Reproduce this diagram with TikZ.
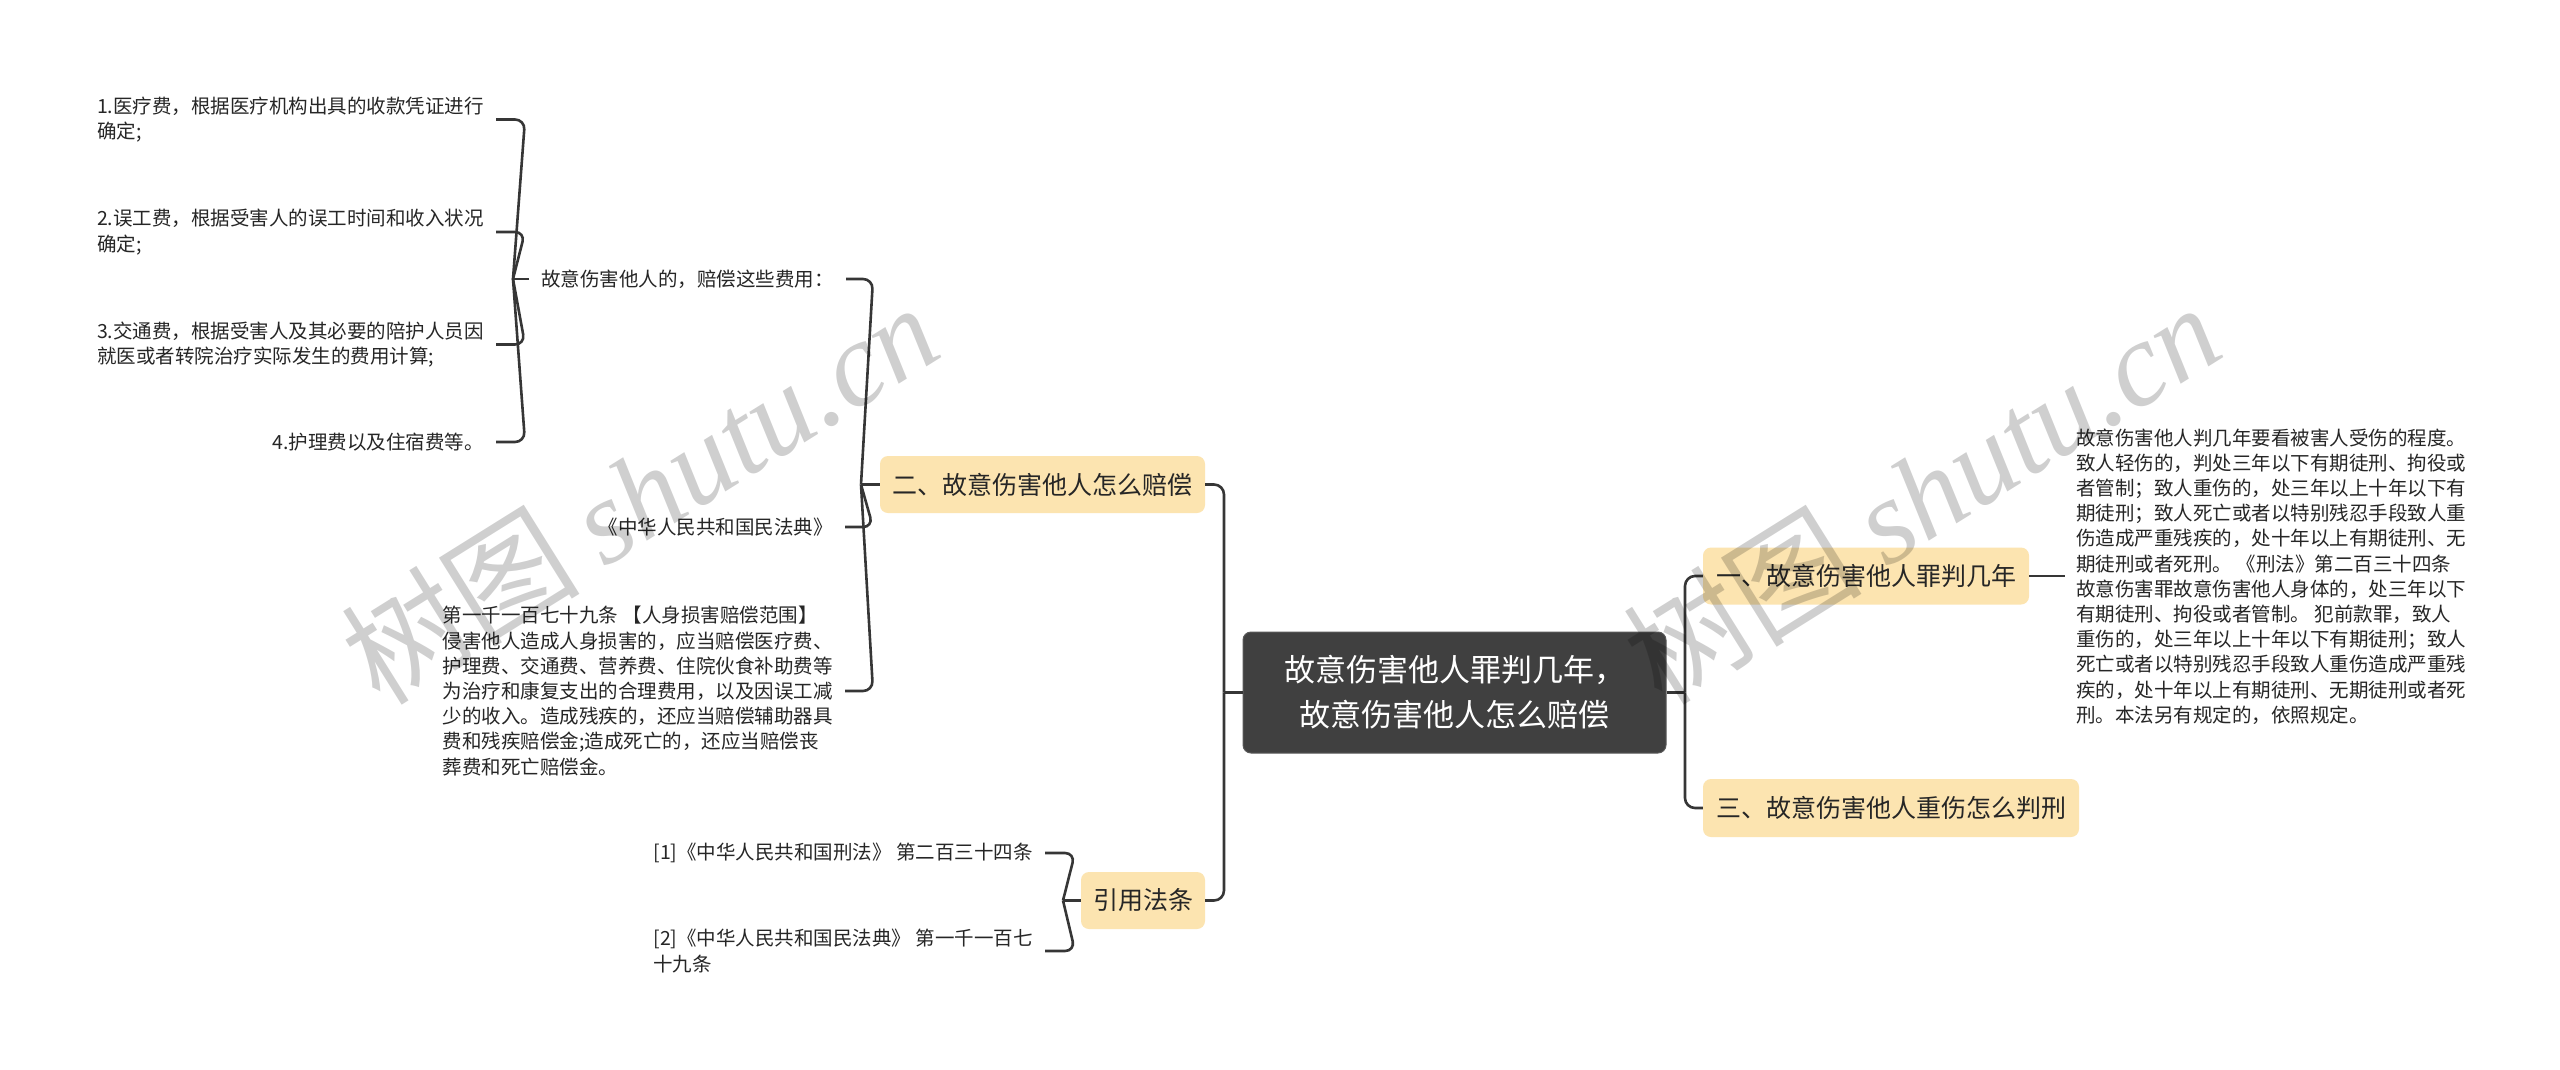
\documentclass[tikz,border=0pt]{standalone}
\usepackage{fontspec}
\setmainfont{Noto Sans CJK SC}
\newfontfamily\wmfont{Liberation Serif}
\definecolor{nodefill}{HTML}{FCE4B0}
\definecolor{rootfill}{HTML}{404040}
\definecolor{rootline}{HTML}{5A5A5A}
\definecolor{linecol}{HTML}{363636}
\definecolor{txt}{HTML}{262626}
\tikzset{
  leaf/.style={inner sep=0pt, font=\fontsize{19.5}{25.2}\selectfont, text=txt, align=left},
  topic/.style={fill=nodefill, rounded corners=8pt, inner sep=0pt, font=\fontsize{25}{30}\selectfont, text=txt, minimum height=57pt},
  rootbox/.style={fill=rootfill, draw=rootline, line width=1pt, rounded corners=8pt, inner sep=0pt, font=\fontsize{31}{45}\selectfont, text=white, align=center},
  conn/.style={draw=linecol, line width=2.6pt, rounded corners=10pt},
  wm/.style={inner sep=0pt, text=black, text opacity=0.19, font=\fontsize{120}{120}\selectfont},
}
\begin{document}
\begin{tikzpicture}[x=1pt,y=-1pt]
\fill[white] (0,0) rectangle (2560,1069);
\useasboundingbox (0,0) rectangle (2560,1069);

% root
\node[rootbox, minimum width=423pt, minimum height=121pt] (root) at (1454.5,692.5) {故意伤害他人罪判几年，\\故意伤害他人怎么赔偿};

% main topics
\node[topic, minimum width=326pt] (t1) at (1866,576) {一、故意伤害他人罪判几年};
\node[topic, minimum width=325pt] (t2) at (1042.5,484.5) {二、故意伤害他人怎么赔偿};
\node[topic, minimum width=376pt, minimum height=58pt] (t3) at (1891,808) {三、故意伤害他人重伤怎么判刑};
\node[topic, minimum width=124pt] (t4) at (1143,900.5) {引用法条};

% right text
\node[leaf, anchor=west] (rt) at (2076,576.5) {故意伤害他人判几年要看被害人受伤的程度。\\致人轻伤的，判处三年以下有期徒刑、拘役或\\者管制；致人重伤的，处三年以上十年以下有\\期徒刑；致人死亡或者以特别残忍手段致人重\\伤造成严重残疾的，处十年以上有期徒刑、无\\期徒刑或者死刑。 《刑法》第二百三十四条\\故意伤害罪故意伤害他人身体的，处三年以下\\有期徒刑、拘役或者管制。 犯前款罪，致人\\重伤的，处三年以上十年以下有期徒刑；致人\\死亡或者以特别残忍手段致人重伤造成严重残\\疾的，处十年以上有期徒刑、无期徒刑或者死\\刑。本法另有规定的，依照规定。};

% children of topic 2
\node[leaf, anchor=east] (k1) at (834,279) {故意伤害他人的，赔偿这些费用：};
\node[leaf, anchor=east] (k2) at (833,527) {《中华人民共和国民法典》};
\node[leaf, anchor=east] (k3) at (833,691) {第一千一百七十九条 【人身损害赔偿范围】\\侵害他人造成人身损害的，应当赔偿医疗费、\\护理费、交通费、营养费、住院伙食补助费等\\为治疗和康复支出的合理费用，以及因误工减\\少的收入。造成残疾的，还应当赔偿辅助器具\\费和残疾赔偿金;造成死亡的，还应当赔偿丧\\葬费和死亡赔偿金。};

% grandchildren
\node[leaf, anchor=east] (g1) at (484,119.5) {1.医疗费，根据医疗机构出具的收款凭证进行\\确定;};
\node[leaf, anchor=east] (g2) at (484,232) {2.误工费，根据受害人的误工时间和收入状况\\确定;};
\node[leaf, anchor=east] (g3) at (484,344.5) {3.交通费，根据受害人及其必要的陪护人员因\\就医或者转院治疗实际发生的费用计算;};
\node[leaf, anchor=east] (g4) at (484,442) {4.护理费以及住宿费等。};

% citations
\node[leaf, anchor=east] (c1) at (1033,853) {[1]《中华人民共和国刑法》 第二百三十四条};
\node[leaf, anchor=east] (c2) at (1033,951) {[2]《中华人民共和国民法典》 第一千一百七\\十九条};

% spine coordinates
\coordinate (sL) at (1224,692.5);
\coordinate (sR) at (1685,692.5);
\coordinate (s2) at (861,484.5);
\coordinate (s1) at (513,279);
\coordinate (s4) at (1063,900.5);

% root connectors
\draw[conn] (root.west) -- (sL);
\draw[conn] (t2.east) -- (t2.east -| sL) -- (sL);
\draw[conn] (t4.east) -- (t4.east -| sL) -- (sL);
\draw[conn] (root.east) -- (sR);
\draw[conn] (t1.west) -- (t1.west -| sR) -- (sR);
\draw[conn] (t3.west) -- (t3.west -| sR) -- (sR);
\draw[conn] (t1.east) -- ([xshift=-11pt]rt.west |- t1.east);

% topic 2 children
\draw[conn] (t2.west) -- (s2);
\draw[conn] ([xshift=12pt]k1.east) -- ([xshift=12pt]k1.east -| s2) -- (s2);
\draw[conn] ([xshift=12pt]k2.east) -- ([xshift=12pt]k2.east -| s2) -- (s2);
\draw[conn] ([xshift=12pt]k3.east) -- ([xshift=12pt]k3.east -| s2) -- (s2);

% k1 children
\draw[conn] ([xshift=-12pt]k1.west) -- (s1);
\draw[conn] ([xshift=12pt]g1.east) -- ([xshift=12pt]g1.east -| s1) -- (s1);
\draw[conn] ([xshift=12pt]g2.east) -- ([xshift=12pt]g2.east -| s1) -- (s1);
\draw[conn] ([xshift=12pt]g3.east) -- ([xshift=12pt]g3.east -| s1) -- (s1);
\draw[conn] ([xshift=12pt]g4.east) -- ([xshift=12pt]g4.east -| s1) -- (s1);

% citation children
\draw[conn] (t4.west) -- (s4);
\draw[conn] ([xshift=12pt]c1.east) -- ([xshift=12pt]c1.east -| s4) -- (s4);
\draw[conn] ([xshift=12pt]c2.east) -- ([xshift=12pt]c2.east -| s4) -- (s4);

% watermarks
\node[wm, anchor=base west, rotate=32] (wm1) at (380,708) {树图\hspace{0.2em}{\wmfont\itshape shutu.cn}};
\node[wm, anchor=base west, rotate=32] (wm2) at (1662,708) {树图\hspace{0.2em}{\wmfont\itshape shutu.cn}};
\end{tikzpicture}
\end{document}
